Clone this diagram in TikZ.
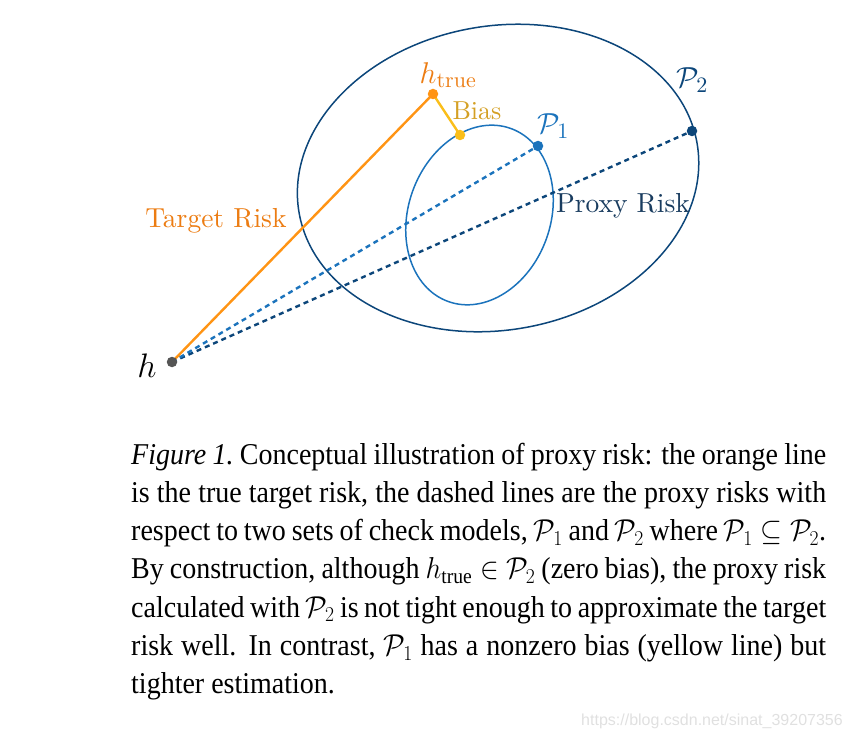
\RequirePackage{fix-cm}
\documentclass[tikz,border=0pt]{standalone}
\usepackage{amsmath}
\usepackage{fontspec}
\newfontfamily\capfont{Liberation Serif}
\newfontfamily\wmfont{Liberation Sans}
\newfontfamily\figfont{lmroman10-regular.otf}
\definecolor{orng}{RGB}{255,148,20}
\definecolor{orngtxt}{RGB}{236,124,18}
\definecolor{yel}{RGB}{250,190,26}
\definecolor{yeltxt}{RGB}{212,160,36}
\definecolor{blu}{RGB}{27,115,188}
\definecolor{nav}{RGB}{12,70,122}
\definecolor{navtxt}{RGB}{25,60,95}
\definecolor{dotgray}{RGB}{85,85,85}
\newcommand{\sub}[1]{\mbox{\figfont\fontsize{22}{24}\selectfont #1}}
\tikzset{
  lbl/.style={inner sep=0pt, font=\figfont\fontsize{27.5}{32}\selectfont},
  dotnode/.style={circle, fill=#1, inner sep=0pt, minimum size=10.5pt},
  solidline/.style={line width=2.4pt, line cap=round},
  dashline/.style={line width=2.4pt, dash pattern=on 5pt off 4pt},
  ell/.style={line width=1.5pt}
}
\begin{document}
\begin{tikzpicture}[x=1pt,y=-1pt]
\useasboundingbox (0,0) rectangle (852,738);
% centres of the ellipses
\coordinate (E2) at (498,178);
\coordinate (E1) at (479.5,215);
\draw[ell, nav, rotate around={10:(E2)}] (E2) ellipse [x radius=202pt, y radius=152pt];
\draw[ell, blu, rotate around={70:(E1)}] (E1) ellipse [x radius=92pt, y radius=71pt];
% points
\coordinate (h) at (172,362);
\coordinate (ht) at (433,94);
\coordinate (b) at (460,135);
\coordinate (p1) at (538,146);
\coordinate (p2) at (692,131);
% connectors
\draw[dashline, nav] (h) -- (p2);
\draw[dashline, blu] (h) -- (p1);
\draw[solidline, orng] (h) -- (ht);
\draw[solidline, yel] (ht) -- (b);
% dots
\node[dotnode=dotgray] (hd) at (h) {};
\node[dotnode=orng] (htd) at (ht) {};
\node[dotnode=yel] (bd) at (b) {};
\node[dotnode=blu] (p1d) at (p1) {};
\node[dotnode=nav] (p2d) at (p2) {};
% labels
\node[lbl, font=\fontsize{34}{38}\selectfont] (hl) at (147,366) {$h$};
\node[lbl, font=\fontsize{30}{34}\selectfont, text=orngtxt] (htl) at (448,75) {$h_{\sub{true}}$};
\node[lbl, font=\figfont\fontsize{26}{30}\selectfont, text=yeltxt] (bl) at (477,111) {Bias};
\node[lbl, font=\fontsize{29}{32}\selectfont, text=blu] (p1l) at (553,126) {$\mathcal{P}_{\sub{1}}$};
\node[lbl, font=\fontsize{29}{32}\selectfont, text=nav] (p2l) at (692,80) {$\mathcal{P}_{\sub{2}}$};
\node[lbl, text=navtxt] (prl) at (623,206) {Proxy Risk};
\node[lbl, text=orngtxt] (trl) at (216,221) {Target Risk};
% caption
\node[anchor=base west, text width=695pt, align=justify, inner sep=0pt,
      yscale=1.08, transform shape,
      font=\capfont\fontsize{28}{35.46}\selectfont] (cap) at (131,464)
{\textit{Figure 1.}\ Conceptual illustration of proxy risk: the orange line\linebreak
is the true target risk, the dashed lines are the proxy risks with\linebreak
respect to two sets of check models, $\mathcal{P}_1$ and $\mathcal{P}_2$ where $\mathcal{P}_1 \subseteq \mathcal{P}_2$.\linebreak
By construction, although $h_{\text{true}} \in \mathcal{P}_2$ (zero bias), the proxy risk\linebreak
calculated with $\mathcal{P}_2$ is not tight enough to approximate the target\linebreak
risk well. In contrast, $\mathcal{P}_1$ has a nonzero bias (yellow line) but\linebreak
tighter estimation.\par};
% watermark
\node[inner sep=0pt, text=black!12, font=\wmfont\fontsize{16}{18}\selectfont] (wm) at (712,721) {https://blog.csdn.net/sinat\_39207356};
\end{tikzpicture}
\end{document}
